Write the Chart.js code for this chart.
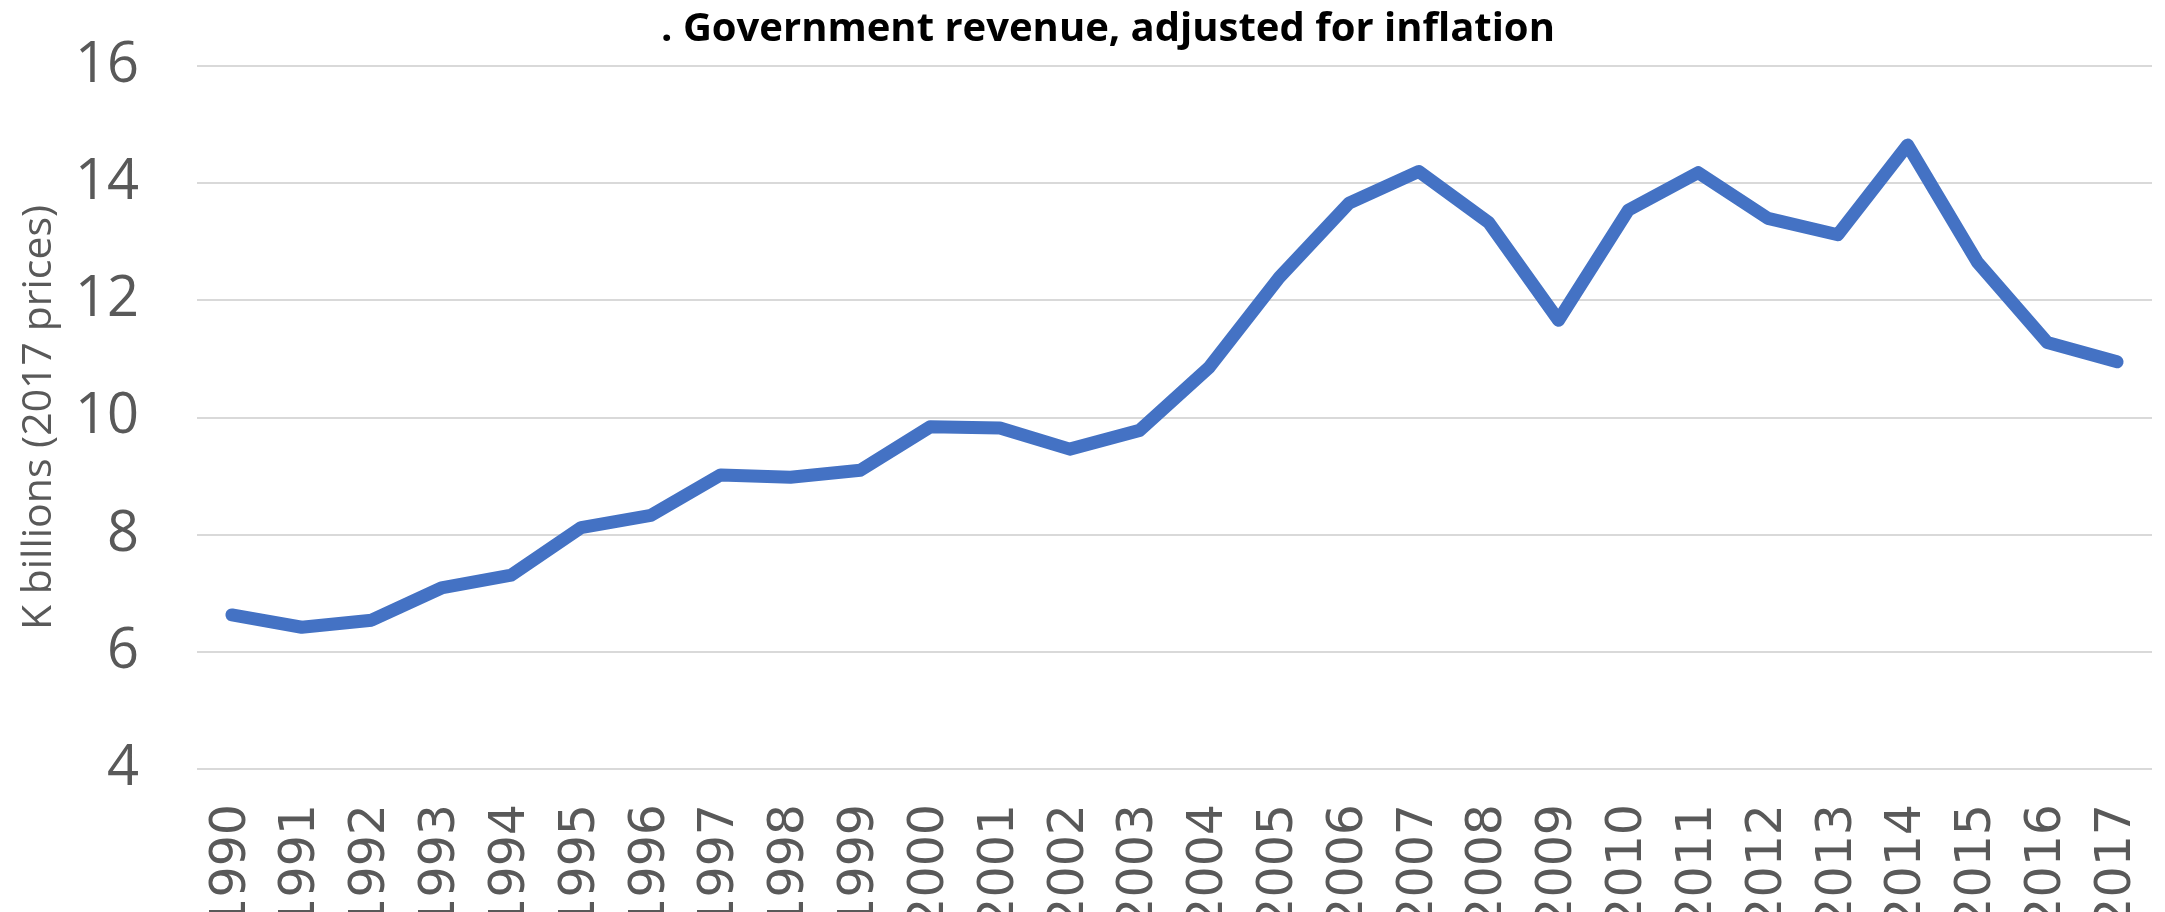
<!DOCTYPE html>
<html>
<head>
<meta charset="utf-8">
<script src="https://cdn.jsdelivr.net/npm/chart.js@4.4.0/dist/chart.umd.min.js"></script>
<style>
  html, body { margin: 0; padding: 0; background: #fff; }
  #wrap { width: 2165px; height: 912px; }
</style>
</head>
<body>
<div id="wrap"><canvas id="chart" width="2165" height="912"></canvas></div>
<script>
const years = ["1990", "1991", "1992", "1993", "1994", "1995", "1996", "1997", "1998", "1999",
  "2000", "2001", "2002", "2003", "2004", "2005", "2006", "2007", "2008", "2009",
  "2010", "2011", "2012", "2013", "2014", "2015", "2016", "2017"];

// K billions, 2017 prices
const revenue = [6.63, 6.42, 6.54, 7.09, 7.31, 8.12, 8.33, 9.02, 8.98, 9.10,
  9.84, 9.82, 9.46, 9.78, 10.86, 12.39, 13.66, 14.20, 13.33, 11.66,
  13.54, 14.18, 13.40, 13.12, 14.65, 12.65, 11.28, 10.95];

const yMin = 4;
const yMax = 16;
const yStep = 2;

const chartTitle = ". Government revenue, adjusted for inflation";
const yTitle = "K billions (2017 prices)";

const grey = "#595959";

// title in the original sits a bit right of the canvas centre
const shiftTitle = {
  id: "shiftTitle",
  afterLayout(chart) {
    if (chart.titleBlock) chart.titleBlock.left += 64;
  },
};

const ctx = document.getElementById("chart").getContext("2d");
new Chart(ctx, {
  type: "line",
  data: {
    labels: years,
    datasets: [{
      label: "Revenue",
      data: revenue,
      borderColor: "#4472C4",
      backgroundColor: "#4472C4",
      borderWidth: 13,
      borderCapStyle: "round",
      borderJoinStyle: "round",
      pointRadius: 0,
      tension: 0,
      fill: false,
    }],
  },
  options: {
    responsive: false,
    animation: false,
    layout: { padding: { left: 0, right: 13, top: 0, bottom: 0 } },
    plugins: {
      legend: { display: false },
      tooltip: { enabled: false },
      title: {
        display: true,
        text: chartTitle,
        color: "#000000",
        font: { family: "'Open Sans', sans-serif", size: 40, weight: "bold" },
        padding: { top: 6, bottom: 12 },
      },
    },
    scales: {
      x: {
        offset: true,
        grid: { display: false, drawTicks: false },
        border: { display: false },
        ticks: {
          autoSkip: false,
          minRotation: 90,
          maxRotation: 90,
          padding: 35,
          color: grey,
          font: { family: "'DejaVu Sans', sans-serif", size: 49 },
        },
        afterFit: (scale) => {
          scale.height = 143;
          scale.paddingLeft = 0;
          scale.paddingRight = 0;
        },
      },
      y: {
        min: yMin,
        max: yMax,
        grid: { color: "#d9d9d9", lineWidth: 2, drawTicks: false },
        border: { display: false },
        ticks: {
          stepSize: yStep,
          padding: 58,
          color: grey,
          font: { family: "'Open Sans', sans-serif", size: 56 },
        },
        title: {
          display: true,
          text: yTitle,
          color: grey,
          font: { family: "'Open Sans', sans-serif", size: 41 },
          padding: { top: 15, bottom: 0 },
        },
        afterFit: (scale) => {
          scale.width = 197;
          scale.paddingTop = 0;
          scale.paddingBottom = 0;
        },
      },
    },
  },
  plugins: [shiftTitle],
});
</script>
</body>
</html>
